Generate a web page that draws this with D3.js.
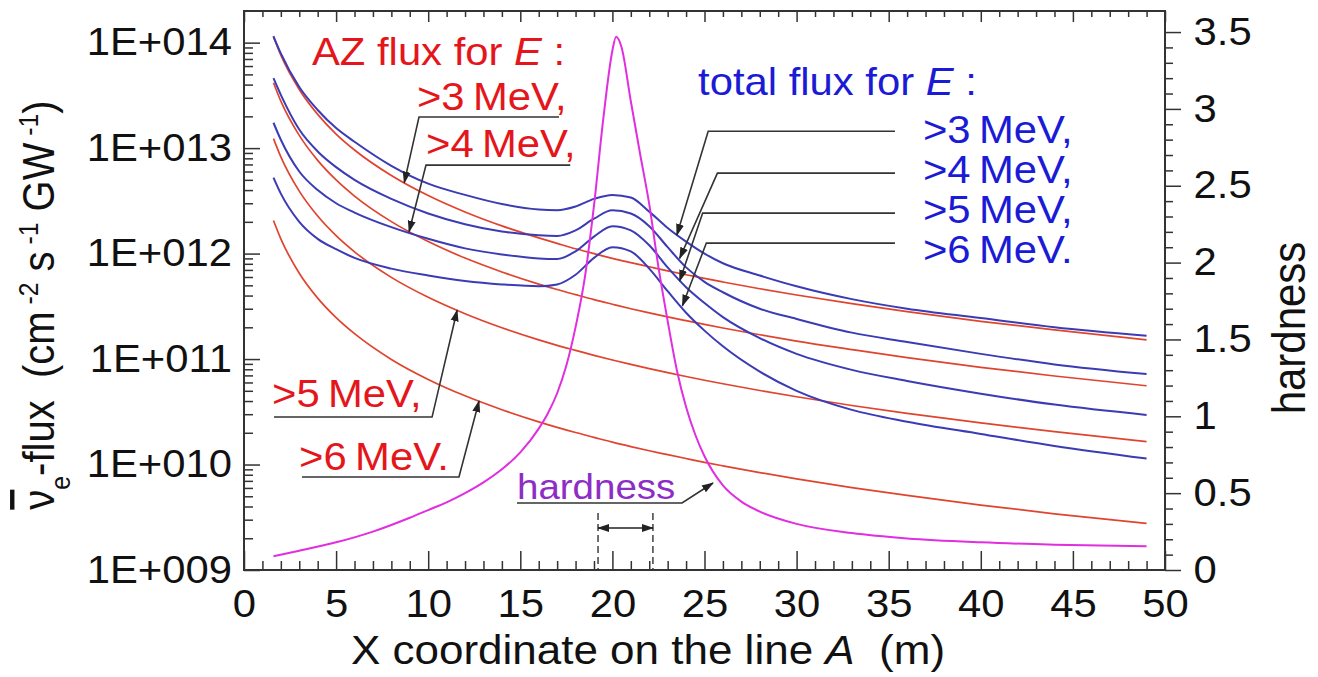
<!DOCTYPE html>
<html>
<head>
<meta charset="utf-8">
<script src="https://cdn.jsdelivr.net/npm/d3@7"></script>
<style>
  body { margin: 0; background: #fff; }
  svg text { font-family: "Liberation Sans", Arial, sans-serif; white-space: pre; }
</style>
</head>
<body>
<svg id="chart" width="1318" height="677"></svg>
<script>
const xPos = [1.6, 2, 3, 4, 5, 6, 8, 10, 12, 14, 16, 17, 18, 19, 20, 21, 22, 23, 24, 25, 26, 28, 30, 33, 36, 40, 44, 49];

// AZ flux (red), cm-2 s-1 GW-1
const azFlux3 = [1.14e14, 7.6e13, 3.6e13, 2.09e13, 1.36e13, 9.6e12, 5.5e12, 3.55e12, 2.48e12, 1.83e12, 1.41e12, 1.25e12, 1.11e12, 1.0e12, 9.0e11, 8.2e11, 7.5e11, 6.86e11, 6.3e11, 5.81e11, 5.38e11, 4.64e11, 4.05e11, 3.35e11, 2.82e11, 2.28e11, 1.89e11, 1.52e11];
const azFlux4 = [4.17e13, 2.79e13, 1.32e13, 7.65e12, 4.99e12, 3.51e12, 2.01e12, 1.30e12, 9.07e11, 6.70e11, 5.14e11, 4.56e11, 4.08e11, 3.66e11, 3.31e11, 3.00e11, 2.74e11, 2.51e11, 2.31e11, 2.13e11, 1.97e11, 1.70e11, 1.48e11, 1.23e11, 1.03e11, 8.35e10, 6.91e10, 5.58e10];
const azFlux5 = [1.23e13, 8.26e12, 3.91e12, 2.27e12, 1.48e12, 1.04e12, 5.95e11, 3.85e11, 2.69e11, 1.98e11, 1.52e11, 1.35e11, 1.21e11, 1.085e11, 9.8e10, 8.9e10, 8.12e10, 7.43e10, 6.83e10, 6.30e10, 5.83e10, 5.03e10, 4.39e10, 3.63e10, 3.05e10, 2.48e10, 2.05e10, 1.65e10];
const azFlux6 = [2.06e12, 1.38e12, 6.51e11, 3.78e11, 2.47e11, 1.74e11, 9.92e10, 6.41e10, 4.48e10, 3.31e10, 2.54e10, 2.25e10, 2.01e10, 1.81e10, 1.63e10, 1.48e10, 1.35e10, 1.24e10, 1.14e10, 1.05e10, 9.72e9, 8.39e9, 7.31e9, 6.05e9, 5.09e9, 4.13e9, 3.41e9, 2.76e9];

// total flux (blue)
const totalFlux3 = [1.15e14, 7.9e13, 3.8e13, 2.3e13, 1.55e13, 1.15e13, 6.8e12, 4.6e12, 3.6e12, 2.95e12, 2.62e12, 2.58e12, 2.8e12, 3.3e12, 3.6e12, 3.4e12, 2.5e12, 1.75e12, 1.3e12, 1.0e12, 8.1e11, 6.2e11, 4.9e11, 3.7e11, 3.0e11, 2.45e11, 2.0e11, 1.66e11];
const totalFlux4 = [4.6e13, 3.2e13, 1.5e13, 9.3e12, 6.6e12, 5.0e12, 3.3e12, 2.4e12, 1.9e12, 1.62e12, 1.49e12, 1.47e12, 1.66e12, 2.14e12, 2.57e12, 2.4e12, 1.82e12, 1.15e12, 7.4e11, 5.4e11, 4.3e11, 3.0e11, 2.4e11, 1.78e11, 1.45e11, 1.12e11, 8.9e10, 7.2e10];
const totalFlux5 = [1.74e13, 1.2e13, 6.0e12, 4.0e12, 3.0e12, 2.45e12, 1.78e12, 1.38e12, 1.12e12, 9.8e11, 9.0e11, 8.9e11, 1.05e12, 1.45e12, 1.82e12, 1.66e12, 1.2e12, 7.4e11, 4.8e11, 3.4e11, 2.5e11, 1.58e11, 1.12e11, 7.9e10, 6.2e10, 4.7e10, 3.7e10, 2.95e10];
const totalFlux6 = [5.25e12, 3.7e12, 2.0e12, 1.38e12, 1.1e12, 9.1e11, 7.2e11, 6.2e11, 5.5e11, 5.1e11, 4.9e11, 5.1e11, 6.3e11, 9.1e11, 1.15e12, 1.05e12, 7.2e11, 4.4e11, 2.75e11, 1.86e11, 1.32e11, 7.6e10, 5.0e10, 3.3e10, 2.55e10, 1.95e10, 1.5e10, 1.14e10];

// hardness (magenta, right axis)
const hardX = [1.6, 3, 5, 7, 9, 10, 11, 12, 13, 14, 15, 16, 16.5, 17, 17.5, 18, 18.5, 19, 19.5, 20, 20.2, 20.5, 21, 21.5, 22, 22.5, 23, 23.5, 24, 24.5, 25, 26, 27, 28, 30, 33, 36, 40, 44, 49];
const hardness = [0.09, 0.125, 0.18, 0.25, 0.34, 0.39, 0.44, 0.50, 0.57, 0.655, 0.765, 0.92, 1.02, 1.15, 1.33, 1.58, 1.9, 2.37, 2.93, 3.38, 3.47, 3.40, 3.05, 2.71, 2.38, 1.97, 1.62, 1.30, 1.06, 0.88, 0.74, 0.55, 0.445, 0.38, 0.30, 0.24, 0.205, 0.18, 0.165, 0.155];

// tick values
const xMajor = d3.range(0, 51, 5);
const xMinor = d3.range(0, 51, 1).filter(v => v % 5 !== 0);
const fluxMajor = [1e9, 1e10, 1e11, 1e12, 1e13, 1e14];
const hardMajor = [0, 0.5, 1, 1.5, 2, 2.5, 3, 3.5];

// annotation labels
const energyLabels = [">3\u2009MeV,", ">4\u2009MeV,", ">5\u2009MeV,", ">6\u2009MeV."];
const azLabelPos = [[9.39, 2.99], [9.88, 2.686], [1.52, 1.06], [2.99, 0.65]];      // x, hardness units
const azUnderline = [[17.1, 9.5, 2.947], [17.71, 9.88, 2.634], [1.63, 10.21, 0.995], [3.15, 11.67, 0.605]];
const azTips = [[8.7, 4.7e12], [8.96, 1.61e12], [11.57, 2.9e11], [12.76, 4.0e10]];   // x, flux
const totalLabelH = [2.777, 2.517, 2.257, 1.997];
const totalLeader = [[25.2, 2.855], [25.7, 2.582], [24.9, 2.322], [25.1, 2.127]];
const totalTips = [[23.5, 1.5e12], [23.65, 9.0e11], [23.65, 5.5e11], [23.8, 3.2e11]];

const svg = d3.select("#chart");
const plot = {left: 244, right: 1165, top: 11, bottom: 570};
const stretch = 1.1;

const x = d3.scaleLinear().domain([0, 50]).range([plot.left, plot.right]);
const yFlux = d3.scaleLog().domain([1e9, Math.pow(10, 14.3)]).range([plot.bottom, plot.top]);
const yHard = d3.scaleLinear().domain([0, 3.637]).range([plot.bottom, plot.top]);

const red = "#e0442f", blue = "#3b3bb5", magenta = "#e02ee0";

// markers
const defs = svg.append("defs");
defs.append("marker").attr("id", "arrow")
    .attr("viewBox", "0 -5 12 10").attr("refX", 11).attr("refY", 0)
    .attr("markerWidth", 12).attr("markerHeight", 10).attr("markerUnits", "userSpaceOnUse")
    .attr("orient", "auto-start-reverse")
    .append("path").attr("d", "M0,-4L12,0L0,4Z").attr("fill", "#222");

// ---- axes ----
function styleAxis(g) {
    g.select(".domain").remove();
    g.selectAll("line").attr("stroke", "#333").attr("stroke-width", 1.5);
    g.selectAll("text").attr("fill", "#111").attr("font-size", 38)
        .attr("font-family", "'Liberation Sans', Arial, sans-serif")
        .attr("transform", `scale(${stretch},1)`);
}

svg.append("g").attr("transform", `translate(0,${plot.bottom})`)
    .call(d3.axisBottom(x).tickValues(xMinor).tickSize(-9).tickFormat(""))
    .call(styleAxis);
svg.append("g").attr("transform", `translate(0,${plot.bottom})`)
    .call(d3.axisBottom(x).tickValues(xMajor).tickSize(-19).tickPadding(20).tickFormat(d3.format("d")))
    .call(styleAxis);
svg.append("g").attr("transform", `translate(0,${plot.top})`)
    .call(d3.axisTop(x).tickValues(xMinor).tickSize(-6).tickFormat(""))
    .call(styleAxis);
svg.append("g").attr("transform", `translate(0,${plot.top})`)
    .call(d3.axisTop(x).tickValues(xMajor).tickSize(-11).tickFormat(""))
    .call(styleAxis);

const fluxMinor = [];
fluxMajor.forEach(d => { for (let k = 2; k <= 9; k++) if (d * k < yFlux.domain()[1]) fluxMinor.push(d * k); });
svg.append("g").attr("transform", `translate(${plot.left},0)`)
    .call(d3.axisLeft(yFlux).tickValues(fluxMinor).tickSize(-9).tickFormat(""))
    .call(styleAxis);
svg.append("g").attr("transform", `translate(${plot.left},0)`)
    .call(d3.axisLeft(yFlux).tickValues(fluxMajor).tickSize(-16).tickPadding(11)
        .tickFormat(d => "1E+" + String(Math.round(Math.log10(d))).padStart(3, "0")))
    .call(styleAxis);

const hardMinor = d3.range(0, 36).map(i => i / 10).filter(v => Math.round(v * 10) % 5 !== 0);
svg.append("g").attr("transform", `translate(${plot.right},0)`)
    .call(d3.axisRight(yHard).tickValues(hardMinor).tickSize(8).tickFormat(""))
    .call(styleAxis);
svg.append("g").attr("transform", `translate(${plot.right},0)`)
    .call(d3.axisRight(yHard).tickValues(hardMajor).tickSize(16).tickPadding(10).tickFormat(d => String(d)))
    .call(styleAxis);

// frame
svg.append("rect")
    .attr("x", plot.left).attr("y", plot.top)
    .attr("width", plot.right - plot.left).attr("height", plot.bottom - plot.top)
    .attr("fill", "none").attr("stroke", "#333").attr("stroke-width", 2);

// ---- curves ----
const fluxLine = d3.line().x((d, i) => x(xPos[i])).y(d => yFlux(d)).curve(d3.curveMonotoneX);
[azFlux3, azFlux4, azFlux5, azFlux6].forEach(s => {
    svg.append("path").datum(s).attr("d", fluxLine)
        .attr("fill", "none").attr("stroke", red).attr("stroke-width", 1.7);
});
[totalFlux3, totalFlux4, totalFlux5, totalFlux6].forEach(s => {
    svg.append("path").datum(s).attr("d", fluxLine)
        .attr("fill", "none").attr("stroke", blue).attr("stroke-width", 2);
});
const hardLine = d3.line().x((d, i) => x(hardX[i])).y(d => yHard(d)).curve(d3.curveMonotoneX);
svg.append("path").datum(hardness).attr("d", hardLine)
    .attr("fill", "none").attr("stroke", magenta).attr("stroke-width", 2);

// ---- text helper ----
function addText(px, py, size, fill, parts, anchor = "start", rotate = 0) {
    const g = svg.append("g")
        .attr("transform", `translate(${px},${py}) scale(${stretch},1)` + (rotate ? ` rotate(${rotate})` : ""));
    const t = g.append("text").attr("font-size", size).attr("fill", fill).attr("text-anchor", anchor);
    parts.forEach(p => {
        const s = t.append("tspan").text(p.t);
        if (p.i) s.attr("font-style", "italic");
        if (p.over) s.style("text-decoration", "overline");
        if (p.sup) s.attr("baseline-shift", "super").attr("font-size", size * 0.62);
        if (p.sub) s.attr("baseline-shift", "sub").attr("font-size", size * 0.62);
    });
    return t;
}

const leader = d3.line().x(d => d[0]).y(d => d[1]);

// AZ annotations
addText(x(3.69), yHard(3.285), 38, "#e5161b", [{t: "AZ flux for "}, {t: "E", i: true}, {t: " :"}]);
energyLabels.forEach((lab, i) => {
    addText(x(azLabelPos[i][0]), yHard(azLabelPos[i][1]), 38, "#e5161b", [{t: lab}]);
    const u = azUnderline[i];
    svg.append("path")
        .attr("d", leader([[x(u[0]), yHard(u[2])], [x(u[1]), yHard(u[2])], [x(azTips[i][0]), yFlux(azTips[i][1])]]))
        .attr("fill", "none").attr("stroke", "#333").attr("stroke-width", 1.6)
        .attr("marker-end", "url(#arrow)");
});

// total annotations
addText(x(24.65), yHard(3.09), 38, "#1b1bd6", [{t: "total flux for "}, {t: "E", i: true}, {t: " :"}]);
energyLabels.forEach((lab, i) => {
    addText(x(36.86), yHard(totalLabelH[i]), 38, "#1b1bd6", [{t: lab}]);
    const l = totalLeader[i];
    svg.append("path")
        .attr("d", leader([[x(35.34), yHard(l[1])], [x(l[0]), yHard(l[1])], [x(totalTips[i][0]), yFlux(totalTips[i][1])]]))
        .attr("fill", "none").attr("stroke", "#333").attr("stroke-width", 1.6)
        .attr("marker-end", "url(#arrow)");
});

// hardness annotation
addText(x(14.82), yHard(0.462), 35, "#8e2dc5", [{t: "hardness"}]);
svg.append("path")
    .attr("d", leader([[x(14.82), yHard(0.436)], [x(23.78), yHard(0.436)], [x(25.46), yHard(0.566)]]))
    .attr("fill", "none").attr("stroke", "#333").attr("stroke-width", 1.6)
    .attr("marker-end", "url(#arrow)");
[19.22, 22.2].forEach(v => {
    svg.append("line")
        .attr("x1", x(v)).attr("x2", x(v)).attr("y1", yHard(0.371)).attr("y2", yHard(0))
        .attr("stroke", "#333").attr("stroke-width", 1.4).attr("stroke-dasharray", "7,4");
});
svg.append("line")
    .attr("x1", x(19.22)).attr("x2", x(22.2)).attr("y1", yHard(0.273)).attr("y2", yHard(0.273))
    .attr("stroke", "#222").attr("stroke-width", 1.6)
    .attr("marker-start", "url(#arrow)").attr("marker-end", "url(#arrow)");

// ---- axis titles ----
addText(648, 664, 40, "#111", [{t: "X coordinate on the line "}, {t: "A", i: true}, {t: "  (m)"}], "middle");
addText(54, 305, 40, "#111",
    [{t: "\u03BD", over: true}, {t: "e", sub: true}, {t: "-flux  (cm"}, {t: " -2", sup: true},
     {t: " s"}, {t: " -1", sup: true}, {t: " GW"}, {t: " -1", sup: true}, {t: ")"}],
    "middle", -90);
addText(1305, 328, 42, "#111", [{t: "hardness"}], "middle", -90);
</script>
</body>
</html>
